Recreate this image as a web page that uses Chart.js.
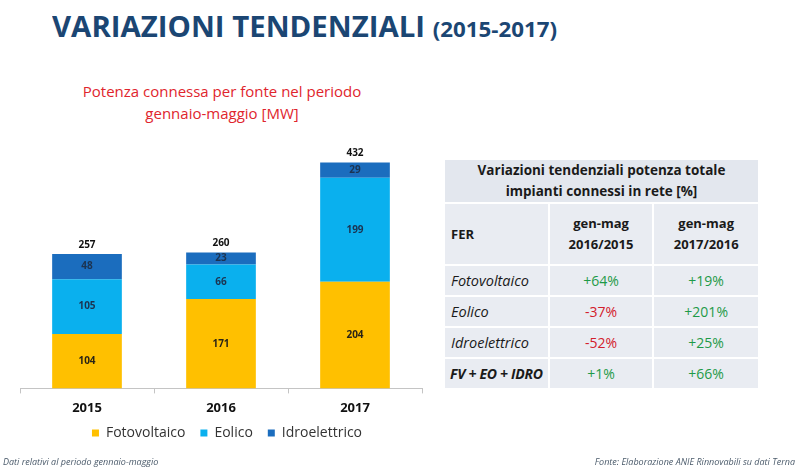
<!DOCTYPE html>
<html>
<head>
<meta charset="utf-8">
<script src="https://cdn.jsdelivr.net/npm/chart.js@4/dist/chart.umd.min.js"></script>
<style>
  html, body { margin:0; padding:0; background:#fff; }
  body { width:800px; height:471px; position:relative; overflow:hidden; font-family:"Open Sans", sans-serif; }
  #title { position:absolute; left:52px; top:6px; white-space:nowrap; color:#1b4673; font-weight:700; font-size:29px; transform-origin:left top; }
  #title .small { font-size:22px; }
  #sub { position:absolute; left:0; width:444px; top:80px; text-align:center; color:#e0252d; font-size:15px; line-height:22px; }
  #chartBox { position:absolute; left:0; top:120px; }
  #tbl { position:absolute; left:443px; top:158px; width:317px; table-layout:fixed; border-collapse:collapse; font-size:14px; color:#1a1a1a; }
  #tbl td { background:#e9ecf2; border:2px solid #fff; padding:0; white-space:nowrap; }
  #tbl td.h { background:#e3e7ee; text-align:center; font-weight:700; font-size:13.5px; line-height:21px; height:42px; }
  #tbl .hdr td { height:60px; font-weight:700; font-size:13px; }
  #tbl .row td { height:29px; }
  #tbl td.lab { padding-left:6px; font-style:italic; font-size:14.5px; overflow:visible; }
  #tbl td.lab.tot { font-weight:700; font-size:14px; letter-spacing:-0.3px; padding-left:5px; }
  #tbl td.num { text-align:center; }
  #tbl .pos { color:#1e9a48; }
  #tbl .neg { color:#d3202c; }
  #foot1 { position:absolute; left:3px; top:455px; font-size:9px; font-style:italic; color:#4a5a6a; }
  #foot2 { position:absolute; right:5px; top:455px; font-size:9px; font-style:italic; color:#4a5a6a; }
</style>
</head>
<body>
<div id="title">VARIAZIONI TENDENZIALI <span class="small">(2015-2017)</span></div>
<div id="sub">Potenza connessa per fonte nel periodo<br>gennaio-maggio [MW]</div>
<div id="chartBox"><canvas id="c" width="440" height="351"></canvas></div>
<table id="tbl"></table>
<div id="foot1">Dati relativi al periodo gennaio-maggio</div>
<div id="foot2">Fonte: Elaborazione ANIE Rinnovabili su dati Terna</div>
<script>
// ---- data ----
const years = ["2015", "2016", "2017"];
const fotovoltaico = [104, 171, 204];
const eolico = [105, 66, 199];
const idroelettrico = [48, 23, 29];
const totals = [257, 260, 432];

const tableTitle = ["Variazioni tendenziali potenza totale", "impianti connessi in rete [%]"];
const tableHeaders = ["FER", "gen-mag<br>2016/2015", "gen-mag<br>2017/2016"];
const tableSources = ["Fotovoltaico", "Eolico", "Idroelettrico", "FV + EO + IDRO"];
const var2016vs2015 = ["+64%", "-37%", "-52%", "+1%"];
const var2017vs2016 = ["+19%", "+201%", "+25%", "+66%"];

// ---- title fit ----
(function(){
  const t = document.getElementById('title');
  const w = t.getBoundingClientRect().width;
  t.style.transform = 'scaleX(' + (505 / w) + ')';
})();

// ---- table ----
(function(){
  const tb = document.getElementById('tbl');
  let html = '<colgroup><col style="width:104px"><col style="width:104px"><col style="width:105px"></colgroup>';
  html += '<tr><td class="h" colspan="3">' + tableTitle.join('<br>') + '</td></tr>';
  html += '<tr class="hdr"><td class="lab" style="font-style:normal;font-size:13px">' + tableHeaders[0] + '</td><td class="num" style="line-height:21px">' + tableHeaders[1] + '</td><td class="num" style="line-height:21px">' + tableHeaders[2] + '</td></tr>';
  for (let i = 0; i < tableSources.length; i++) {
    const a = var2016vs2015[i], b = var2017vs2016[i];
    const last = i === tableSources.length - 1;
    html += '<tr class="row"><td class="lab' + (last ? ' tot' : '') + '">' + tableSources[i] + '</td>' +
      '<td class="num ' + (a[0] === '-' ? 'neg' : 'pos') + '">' + a + '</td>' +
      '<td class="num ' + (b[0] === '-' ? 'neg' : 'pos') + '">' + b + '</td></tr>';
  }
  tb.innerHTML = html;
})();

// ---- chart ----
const labelPlugin = {
  id: 'segLabels',
  afterLayout(chart) {
    const lg = chart.legend;
    if (lg) { lg.top -= 12; lg.bottom -= 12; lg.left += 6; lg.right += 6; }
  },
  afterDatasetsDraw(chart) {
    const ctx = chart.ctx;
    ctx.save();
    ctx.textAlign = 'center';
    ctx.textBaseline = 'middle';
    chart.data.datasets.forEach((ds, di) => {
      const meta = chart.getDatasetMeta(di);
      meta.data.forEach((bar, i) => {
        ctx.font = 'bold 10px "Open Sans", sans-serif';
        ctx.fillStyle = di === 0 ? '#2a2416' : '#1c3350';
        ctx.fillText(String(ds.data[i]), bar.x, (bar.y + bar.base) / 2);
      });
    });
    const topMeta = chart.getDatasetMeta(chart.data.datasets.length - 1);
    topMeta.data.forEach((bar, i) => {
      ctx.font = 'bold 10px "Open Sans", sans-serif';
      ctx.fillStyle = '#111';
      ctx.fillText(String(totals[i]), bar.x, bar.y - 9);
    });
    ctx.restore();
  }
};

new Chart(document.getElementById('c'), {
  type: 'bar',
  data: {
    labels: years,
    datasets: [
      { label: 'Fotovoltaico', data: fotovoltaico, backgroundColor: '#ffc000' },
      { label: 'Eolico', data: eolico, backgroundColor: '#0ab0ee' },
      { label: 'Idroelettrico', data: idroelettrico, backgroundColor: '#1b6dbe' }
    ]
  },
  options: {
    responsive: false,
    devicePixelRatio: 1,
    animation: false,
    layout: { padding: { top: 7, left: 20, right: 18, bottom: 9 } },
    datasets: { bar: { categoryPercentage: 1, barPercentage: 0.52, borderWidth: 0 } },
    scales: {
      x: {
        stacked: true,
        grid: { drawOnChartArea: false, color: '#c4c4c4', tickLength: 5 },
        border: { color: '#c4c4c4' },
        ticks: { color: '#111', font: { family: 'Open Sans', size: 13, weight: 'bold' }, padding: 7 }
      },
      y: { stacked: true, display: false, min: 0, max: 500 }
    },
    plugins: {
      legend: {
        position: 'bottom',
        labels: { boxWidth: 7, boxHeight: 7, padding: 15, color: '#333', font: { family: 'Open Sans', size: 14 } }
      },
      tooltip: { enabled: false }
    }
  },
  plugins: [labelPlugin]
});
</script>
</body>
</html>
